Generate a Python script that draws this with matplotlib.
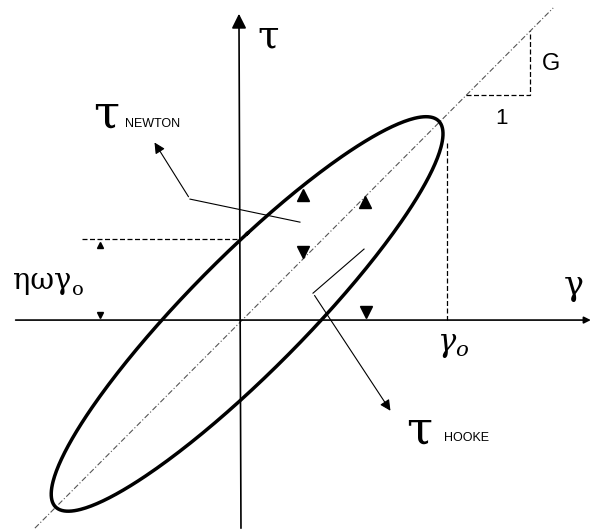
import numpy as np
import matplotlib
matplotlib.use("Agg")
import matplotlib.pyplot as plt

plt.rcParams['mathtext.fontset'] = 'dejavuserif'

# viscoelastic loop (units: strain amplitude ~ 1)
gamma0 = 0.96
G_storage = 0.92      # in-phase (Hooke) part
eta_omega = 0.41      # out-of-phase (Newton) part
centre = 0.03         # loop centre sits slightly up the diagonal

# direction markers on the loop
up_x = [0.304, 0.608]
up_y = [0.613, 0.578]
down_x = [0.304, 0.613]
down_y = [0.333, 0.040]

dim_x = -0.69

t = np.linspace(0, 2 * np.pi, 400)
gam = centre + gamma0 * np.sin(t)
tau = centre + gamma0 * (G_storage * np.sin(t) + eta_omega * np.cos(t))

# where the loop cuts the tau axis (upper branch)
s0 = -centre / gamma0
tau_cross = centre + gamma0 * (G_storage * s0 + eta_omega * np.sqrt(1 - s0 ** 2))

fig = plt.figure(figsize=(5.94, 5.31), dpi=100)
ax = fig.add_axes([0, 0, 1, 1])
ax.set_xlim(-1.181, 1.730)
ax.set_ylim(-1.034, 1.569)
ax.axis('off')

# axes
ax.annotate('', xy=(1.728, 0.0), xytext=(-1.118, 0.0),
            arrowprops=dict(arrowstyle='-|>', lw=1.2, color='black', mutation_scale=10))
ax.annotate('', xy=(-0.01, 1.515), xytext=(0.0, -1.034),
            arrowprops=dict(arrowstyle='-|>', lw=1.2, color='black', mutation_scale=22))

# diagonal (elastic line)
ax.plot([-1.01, 1.53], [-1.02, 1.53], color='#555555', lw=0.8, ls=(0, (5, 2, 1, 2)))

# loop
ax.plot(gam, tau, color='black', lw=2.5)

# slope triangle
ax.plot([1.103, 1.417, 1.417], [1.103, 1.103, 1.417], color='black', lw=0.9, ls=(0, (4, 2)))
ax.text(1.52, 1.255, 'G', fontsize=17, family='Liberation Sans', ha='center', va='center')
ax.text(1.275, 0.99, '1', fontsize=16, family='Liberation Sans', ha='center', va='center')

# gamma0 line
x_g0 = centre + gamma0 + 0.02
ax.plot([x_g0, x_g0], [0.87, 0.0], color='black', lw=0.9, ls=(0, (4, 2)))

# eta omega gamma0 dimension
ax.plot([-0.78, 0.0], [tau_cross, tau_cross], color='black', lw=0.9, ls=(0, (4, 2)))
ax.plot([dim_x], [tau_cross - 0.03], marker='^', color='black', ms=5)
ax.plot([dim_x], [0.025], marker='v', color='black', ms=5)

# direction markers
ax.plot(up_x, up_y, ls='none', marker='^', color='black', ms=9)
ax.plot(down_x, down_y, ls='none', marker='v', color='black', ms=9)

# leaders
ax.plot([0.289, -0.25], [0.48, 0.593], color='black', lw=0.8)
ax.annotate('', xy=(-0.431, 0.882), xytext=(-0.25, 0.593),
            arrowprops=dict(arrowstyle='-|>', lw=0.8, color='black', mutation_scale=16))
ax.plot([0.603, 0.353], [0.348, 0.132], color='black', lw=0.8)
ax.annotate('', xy=(0.74, -0.456), xytext=(0.353, 0.132),
            arrowprops=dict(arrowstyle='-|>', lw=0.8, color='black', mutation_scale=16))

# labels
ax.text(0.132, 1.39, 'τ', fontsize=28, family='DejaVu Serif', ha='center', va='center')
ax.text(1.632, 0.167, 'γ', fontsize=24, family='DejaVu Serif', ha='center', va='center')
ax.text(1.04, -0.127, r'$\gamma_o$', fontsize=22, ha='center', va='center')
ax.text(-1.118, 0.19, 'ηωγ', fontsize=21, family='DejaVu Serif', ha='left', va='center')
ax.text(-0.83, 0.145, 'o', fontsize=14, family='DejaVu Serif', ha='left', va='center')

ax.text(-0.662, 1.005, 'τ', fontsize=34, family='DejaVu Serif', ha='center', va='center')
ax.text(-0.569, 0.96, 'NEWTON', fontsize=9, family='Liberation Sans', ha='left', va='center')
ax.text(0.873, -0.544, 'τ', fontsize=34, family='DejaVu Serif', ha='center', va='center')
ax.text(0.995, -0.578, 'HOOKE', fontsize=9, family='Liberation Sans', ha='left', va='center')

fig.savefig('out.png', dpi=100, facecolor='white')
